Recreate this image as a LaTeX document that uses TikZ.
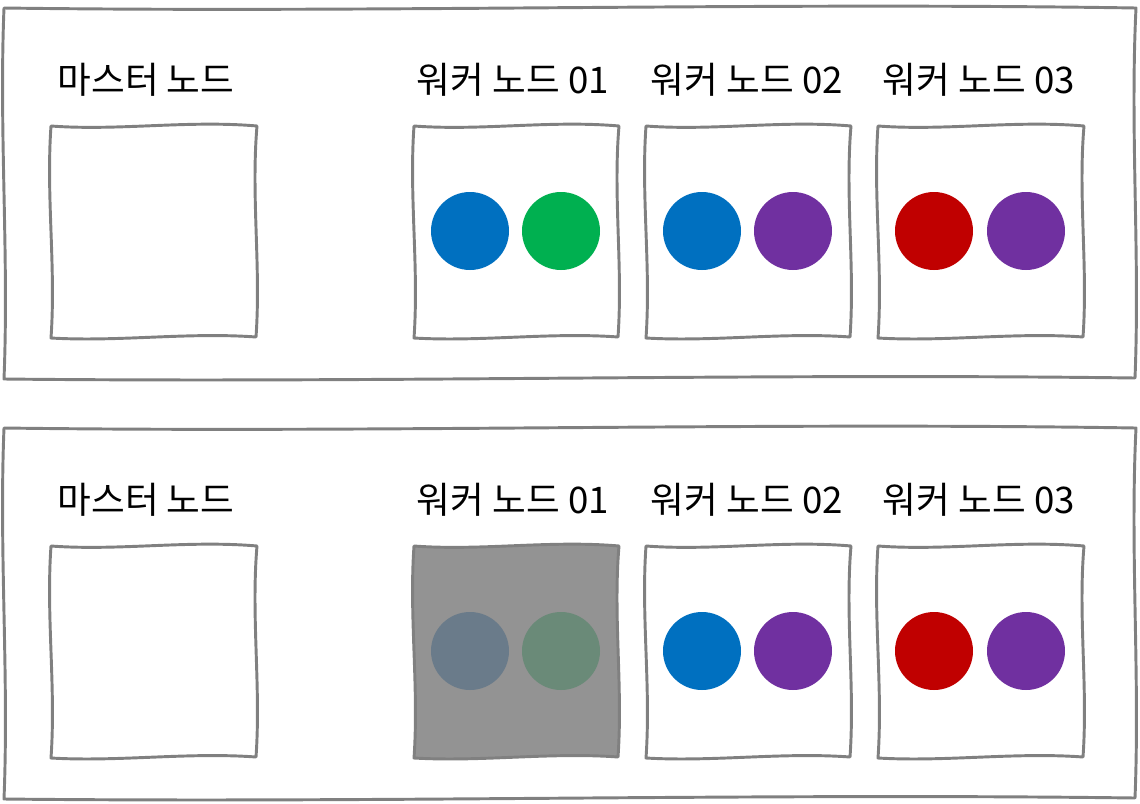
\documentclass[tikz,border=0pt]{standalone}
\usepackage{fontspec}
\newfontfamily\krfont{Noto Sans CJK KR}
\definecolor{skgray}{HTML}{808080}
\definecolor{cblue}{HTML}{0070C0}
\definecolor{cgreen}{HTML}{00B050}
\definecolor{cpurple}{HTML}{7030A0}
\definecolor{cred}{HTML}{C00000}
\definecolor{dimfill}{HTML}{939393}
\definecolor{dimblue}{HTML}{6A7B8A}
\definecolor{dimgreen}{HTML}{6A8A78}
\newcommand\skbox[5]{%
 \pgfmathsetmacro\xa{#2}\pgfmathsetmacro\ya{#3}%
 \pgfmathsetmacro\xb{#4}\pgfmathsetmacro\yb{#5}%
 \pgfmathsetmacro\ax{\xa+(\xb-\xa)/3}\pgfmathsetmacro\bx{\xa+2*(\xb-\xa)/3}%
 \pgfmathsetmacro\ay{\ya+(\yb-\ya)/3}\pgfmathsetmacro\by{\ya+2*(\yb-\ya)/3}%
 \draw[#1] (\xa,\ya) .. controls (\ax,\ya+5) and (\bx,\ya-6) .. (\xb+1,\ya)
   .. controls (\xb-5,\ay) and (\xb+5,\by) .. (\xb,\yb)
   .. controls (\bx,\yb-5) and (\ax,\yb+5) .. (\xa,\yb+1)
   .. controls (\xa+5,\by) and (\xa-5,\ay) .. cycle;}
\begin{document}
\begin{tikzpicture}[x=0.75pt,y=-0.75pt,
  sk/.style={draw=skgray,line width=2.2pt,line join=round,line cap=round},
  lbl/.style={font=\krfont\fontsize{27.5}{32}\selectfont,inner sep=0pt},
  pod/.style={circle,minimum size=58.5pt,inner sep=0pt}]
\useasboundingbox (0,0) rectangle (1140,804);
\foreach \oy/\r in {0/a,420/b}{
  \skbox{sk}{4}{\oy+8}{1135}{\oy+378}
  \skbox{sk}{51}{\oy+126}{256}{\oy+337}
  \node[lbl] (master\r) at (146,\oy+80) {마스터 노드};
  \node[lbl] (wl1\r) at (513,\oy+80) {워커 노드 01};
  \node[lbl] (wl2\r) at (747,\oy+80) {워커 노드 02};
  \node[lbl] (wl3\r) at (979,\oy+80) {워커 노드 03};
}
% top row
\skbox{sk,fill=white}{414}{126}{618}{337}
\skbox{sk}{646}{126}{850}{337}
\skbox{sk}{878}{126}{1083}{337}
\node[pod,fill=cblue] (p1a) at (470,231) {};
\node[pod,fill=cgreen] (p2a) at (561,231) {};
\node[pod,fill=cblue] (p3a) at (702,231) {};
\node[pod,fill=cpurple] (p4a) at (793,231) {};
\node[pod,fill=cred] (p5a) at (934,231) {};
\node[pod,fill=cpurple] (p6a) at (1026,231) {};
% bottom row
\skbox{sk,fill=dimfill}{414}{546}{618}{757}
\skbox{sk}{646}{546}{850}{757}
\skbox{sk}{878}{546}{1083}{757}
\node[pod,fill=dimblue] (p1b) at (470,651) {};
\node[pod,fill=dimgreen] (p2b) at (561,651) {};
\node[pod,fill=cblue] (p3b) at (702,651) {};
\node[pod,fill=cpurple] (p4b) at (793,651) {};
\node[pod,fill=cred] (p5b) at (934,651) {};
\node[pod,fill=cpurple] (p6b) at (1026,651) {};
\end{tikzpicture}
\end{document}
